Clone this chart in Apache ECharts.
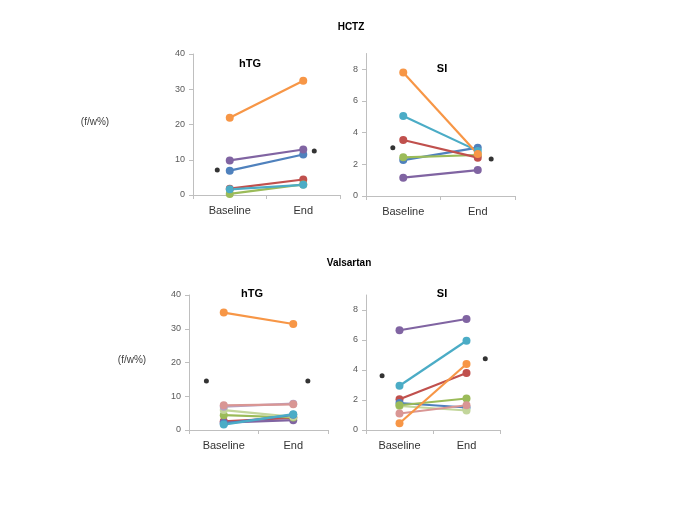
<!DOCTYPE html>
<html>
<head>
<meta charset="utf-8">
<script src="https://cdn.jsdelivr.net/npm/echarts@6/dist/echarts.min.js"></script>
<style>
html,body{margin:0;padding:0;background:#fff;}
#chart{width:685px;height:513px;}
</style>
</head>
<body>
<div id="chart"></div>
<script>
// ---- data ----
const categories = ['Baseline', 'End'];
const yTicksHTG = [0, 10, 20, 30, 40];
const yTicksSI = [0, 2, 4, 6, 8];

// HCTZ - hTG
const hctzHTG_blue = [6.9, 11.5];
const hctzHTG_red = [1.8, 4.4];
const hctzHTG_green = [0.3, 3.0];
const hctzHTG_purple = [9.8, 12.9];
const hctzHTG_teal = [1.6, 2.9];
const hctzHTG_orange = [21.9, 32.4];
const hctzHTG_mean = [7.1, 12.5];

// HCTZ - SI
const hctzSI_blue = [2.27, 3.05];
const hctzSI_red = [3.54, 2.42];
const hctzSI_green = [2.44, 2.59];
const hctzSI_purple = [1.16, 1.64];
const hctzSI_teal = [5.05, 2.85];
const hctzSI_orange = [7.8, 2.65];
const hctzSI_mean = [3.05, 2.34];

// Valsartan - hTG
const valHTG_pink = [7.3, 7.6];
const valHTG_lpurple = [6.9, 7.8];
const valHTG_lgreen = [5.9, 3.9];
const valHTG_green = [4.4, 3.7];
const valHTG_red = [2.6, 3.6];
const valHTG_purple = [2.2, 2.9];
const valHTG_blue = [1.9, 4.5];
const valHTG_teal = [1.6, 4.7];
const valHTG_orange = [34.8, 31.4];
const valHTG_mean = [14.5, 14.5];

// Valsartan - SI
const valSI_purple = [6.65, 7.4];
const valSI_teal = [2.95, 5.95];
const valSI_red = [2.05, 3.8];
const valSI_blue = [1.8, 1.5];
const valSI_green = [1.65, 2.1];
const valSI_lgreen = [1.6, 1.3];
const valSI_pink = [1.1, 1.65];
const valSI_orange = [0.45, 4.4];
const valSI_mean = [3.62, 4.75];

// ---- styling ----
const C = {
  blue: '#4F81BD', red: '#C0504D', green: '#9BBB59', purple: '#8064A2',
  teal: '#4BACC6', orange: '#F79646', pink: '#D99694', lgreen: '#C3D69B',
  lpurple: '#B3A2C7'
};
const axisGray = '#BFBFBF';
const font = 'Liberation Sans, Arial, sans-serif';

const panels = [
  { grid: {left: 193, top: 54, width: 147, height: 141}, max: 40, interval: 10,
    meanX: [0.33, 1.65], mean: hctzHTG_mean,
    lines: [[hctzHTG_red, C.red], [hctzHTG_green, C.green], [hctzHTG_teal, C.teal],
            [hctzHTG_blue, C.blue], [hctzHTG_purple, C.purple], [hctzHTG_orange, C.orange]] },
  { grid: {left: 366, top: 53.5, width: 149, height: 142.5}, max: 9, interval: 2,
    meanX: [0.36, 1.68], mean: hctzSI_mean,
    lines: [[hctzSI_purple, C.purple], [hctzSI_blue, C.blue], [hctzSI_green, C.green],
            [hctzSI_red, C.red], [hctzSI_teal, C.teal], [hctzSI_orange, C.orange]] },
  { grid: {left: 189, top: 295, width: 139, height: 135}, max: 40, interval: 10,
    meanX: [0.25, 1.71], mean: valHTG_mean,
    lines: [[valHTG_red, C.red], [valHTG_purple, C.purple], [valHTG_green, C.green],
            [valHTG_lgreen, C.lgreen], [valHTG_blue, C.blue], [valHTG_teal, C.teal],
            [valHTG_lpurple, C.lpurple], [valHTG_pink, C.pink], [valHTG_orange, C.orange]] },
  { grid: {left: 366, top: 295, width: 134, height: 135}, max: 9, interval: 2,
    meanX: [0.24, 1.78], mean: valSI_mean,
    lines: [[valSI_purple, C.purple], [valSI_teal, C.teal], [valSI_red, C.red],
            [valSI_blue, C.blue], [valSI_lgreen, C.lgreen], [valSI_green, C.green],
            [valSI_pink, C.pink], [valSI_orange, C.orange]] }
];

const grids = [], xAxes = [], yAxes = [], series = [];
panels.forEach((p, i) => {
  grids.push(p.grid);
  // category axis
  xAxes.push({
    type: 'category', gridIndex: i, data: categories, boundaryGap: true,
    axisLine: {lineStyle: {color: axisGray, width: 1}},
    axisTick: {show: true, alignWithLabel: false, length: 4, lineStyle: {color: axisGray}},
    axisLabel: {color: '#333', fontSize: 11, fontFamily: font, margin: 10},
    splitLine: {show: false}
  });
  // hidden value axis for the mean dots
  xAxes.push({
    type: 'value', gridIndex: i, min: 0, max: 2, show: false
  });
  yAxes.push({
    type: 'value', gridIndex: i, min: 0, max: p.max, interval: p.interval,
    axisLine: {show: true, lineStyle: {color: axisGray, width: 1}},
    axisTick: {show: true, length: 4, lineStyle: {color: axisGray}},
    axisLabel: {color: '#595959', fontSize: 9, fontFamily: font, margin: 8, showMaxLabel: p.max % p.interval === 0},
    splitLine: {show: false}
  });
  p.lines.forEach(([vals, col]) => {
    series.push({
      type: 'line', xAxisIndex: i * 2, yAxisIndex: i, data: vals,
      symbol: 'circle', symbolSize: 8, silent: true, animation: false,
      lineStyle: {color: col, width: 2.2},
      itemStyle: {color: col}
    });
  });
  series.push({
    type: 'scatter', xAxisIndex: i * 2 + 1, yAxisIndex: i,
    data: p.mean.map((v, k) => [p.meanX[k], v]),
    symbol: 'circle', symbolSize: 5, itemStyle: {color: '#000'}, animation: false, z: 5
  });
});

function txt(x, y, text, size, bold, color) {
  return {type: 'text', x: x, y: y, style: {text: text, x: 0, y: 0, fill: color || '#000',
    font: (bold ? 'bold ' : '') + size + 'px ' + font, align: 'center', verticalAlign: 'middle'}};
}

const graphic = [
  txt(351, 27, 'HCTZ', 10, true),
  txt(349, 263, 'Valsartan', 10, true),
  txt(250, 64, 'hTG', 11, true),
  txt(442, 69, 'SI', 11, true),
  txt(252, 294, 'hTG', 11, true),
  txt(442, 294, 'SI', 11, true),
  txt(95, 122, '(f/w%)', 10, false, '#404040'),
  txt(132, 360, '(f/w%)', 10, false, '#404040')
];

const chart = echarts.init(document.getElementById('chart'));
chart.setOption({
  animation: false,
  backgroundColor: '#fff',
  grid: grids, xAxis: xAxes, yAxis: yAxes, series: series, graphic: graphic
});
</script>
</body>
</html>
